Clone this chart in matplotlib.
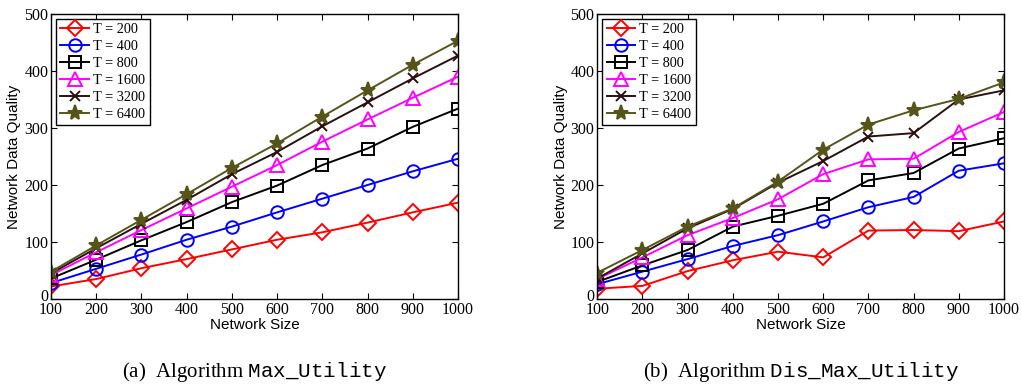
import matplotlib
matplotlib.use("Agg")
import matplotlib.pyplot as plt
from matplotlib.transforms import ScaledTranslation

plt.rcParams["mathtext.fontset"] = "custom"
plt.rcParams["mathtext.rm"] = "Liberation Serif"
plt.rcParams["mathtext.tt"] = "Liberation Mono"

network_size = [100, 200, 300, 400, 500, 600, 700, 800, 900, 1000]
horizons = ["T = 200", "T = 400", "T = 800", "T = 1600", "T = 3200", "T = 6400"]

# Max_Utility (centralised)
max_utility = [
    [22, 35, 54, 70, 87, 104, 117, 134, 152, 169],
    [28, 53, 78, 104, 127, 152, 176, 200, 224, 246],
    [36, 69, 103, 135, 170, 199, 235, 264, 302, 334],
    [42, 82, 121, 159, 197, 235, 276, 315, 353, 390],
    [45, 89, 132, 174, 219, 258, 303, 345, 387, 427],
    [48, 94, 139, 184, 230, 273, 320, 366, 411, 453],
]

# Dis_Max_Utility (distributed)
dis_max_utility = [
    [18, 23, 49, 68, 83, 73, 120, 121, 119, 136],
    [26, 48, 70, 93, 112, 136, 161, 179, 225, 238],
    [30, 59, 86, 127, 146, 167, 208, 221, 264, 282],
    [35, 73, 112, 142, 175, 219, 245, 246, 293, 328],
    [36, 80, 124, 158, 204, 242, 285, 291, 350, 366],
    [46, 86, 127, 159, 206, 262, 306, 331, 351, 380],
]

colors = ["#ff0000", "#0000ff", "#000000", "#ff00ff", "#2b1010", "#55551a"]
markers = ["D", "o", "s", "^", "x", "*"]
msizes = [8, 9, 8, 10, 7, 11]

serif = "Liberation Serif"
sans = "Liberation Sans"


def draw_panel(fig, ax, series, caption):
    for i, ys in enumerate(series):
        star = markers[i] == "*"
        ax.plot(network_size, ys, color=colors[i], marker=markers[i],
                markersize=msizes[i], linewidth=1.4, markeredgewidth=1.4,
                markerfacecolor=colors[i] if star else "none",
                label=horizons[i])
    ax.set_xlim(100, 1000)
    ax.set_ylim(0, 500)
    ax.set_xticks(network_size)
    ax.set_yticks([0, 100, 200, 300, 400, 500])
    ax.tick_params(direction="in", top=True, right=True, length=4,
                   width=0.8, labelsize=11.5, pad=2)
    for lab in ax.get_xticklabels() + ax.get_yticklabels():
        lab.set_fontfamily(serif)
    # nudge the "0" up a little, clear of the first x tick label
    zero = ax.yaxis.get_major_ticks()[0].label1
    zero.set_transform(zero.get_transform()
                       + ScaledTranslation(0, 4 / 100, fig.dpi_scale_trans))
    for sp in ax.spines.values():
        sp.set_linewidth(1.0)
    ax.set_xlabel("Network Size", fontfamily=sans, fontsize=11, labelpad=0)
    ax.set_ylabel("Network Data Quality", fontfamily=sans, fontsize=11,
                  labelpad=2)
    leg = ax.legend(loc="upper left", prop={"family": serif, "size": 10.3},
                    fancybox=False, edgecolor="black", framealpha=1,
                    borderpad=0.3, labelspacing=0.27, handlelength=2.0,
                    handletextpad=0.3, borderaxespad=0.35)
    leg.get_frame().set_linewidth(1.0)
    ax.text(0.5, -0.255, caption, transform=ax.transAxes, ha="center",
            va="center", fontfamily=serif, fontsize=15)


fig = plt.figure(figsize=(10.21, 3.85), dpi=100)
ax_a = fig.add_axes([0.0500, 0.2234, 0.3986, 0.7403])
ax_b = fig.add_axes([0.5850, 0.2234, 0.3983, 0.7403])

draw_panel(fig, ax_a, max_utility, r"(a)  Algorithm $\mathtt{Max\_Utility}$")
draw_panel(fig, ax_b, dis_max_utility,
           r"(b)  Algorithm $\mathtt{Dis\_Max\_Utility}$")

fig.savefig("out.png", dpi=100)
